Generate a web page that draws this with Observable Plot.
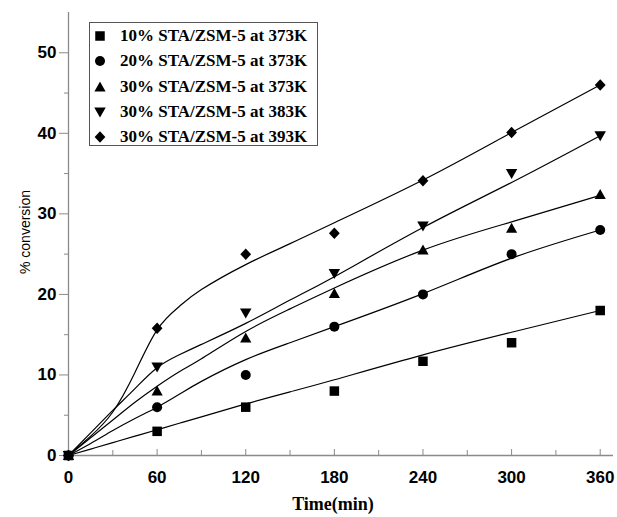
<!DOCTYPE html>
<html>
<head>
<meta charset="utf-8">
<script src="https://cdn.jsdelivr.net/npm/d3@7"></script>
<script src="https://cdn.jsdelivr.net/npm/@observablehq/plot@0.6"></script>
<style>
  body { margin: 0; background: white; }
  #wrap { position: relative; width: 617px; height: 517px; }
  #legend { position: absolute; left: 89px; top: 22px; width: 229px; height: 124px; border: 1px solid #555; background: white; box-sizing: border-box; padding-top: 1px; }
  .row { position: relative; height: 25.3px; font: bold 17px "Liberation Serif", serif; color: black; }
  .row svg { position: absolute; left: 3px; top: 5px; }
  .row span { position: absolute; left: 30px; top: 2px; white-space: nowrap; }
</style>
</head>
<body>
<div id="wrap"></div>
<script>
// ---- data ----
const seriesNames = [
  "10% STA/ZSM-5 at 373K",
  "20% STA/ZSM-5 at 373K",
  "30% STA/ZSM-5 at 373K",
  "30% STA/ZSM-5 at 383K",
  "30% STA/ZSM-5 at 393K"
];
const times = [0, 60, 120, 180, 240, 300, 360];
const conv10at373 = [0, 3.0, 6.0, 8.0, 11.7, 14.0, 18.0];
const conv20at373 = [0, 6.0, 10.0, 16.0, 20.0, 25.0, 28.0];
const conv30at373 = [0, 8.0, 14.6, 20.1, 25.5, 28.2, 32.4];
const conv30at383 = [0, 11.0, 17.7, 22.6, 28.5, 35.0, 39.7];
const conv30at393 = [0, 15.8, 25.0, 27.6, 34.1, 40.1, 46.0];

// fitted curves, values
const fitTimes   = [0, 15, 30, 45, 60, 75, 90, 120, 150, 180, 240, 300, 360];
const fit10at373 = [0, 0.8, 1.6, 2.4, 3.2, 4.0, 4.8, 6.4, 7.9, 9.4, 12.5, 15.3, 18.0];
const fit20at373 = [0, 1.5, 3.1, 4.6, 6.0, 7.6, 9.2, 11.9, 14.0, 16.0, 20.1, 24.5, 28.0];
const fit30at373 = [0, 2.2, 4.4, 6.6, 8.6, 10.4, 12.0, 15.4, 18.2, 20.8, 25.5, 29.0, 32.3];
const fit30at383 = [0, 2.8, 5.6, 8.3, 10.9, 12.5, 13.8, 16.4, 19.3, 22.2, 28.3, 33.9, 39.7];
const fit30at393 = [0, 2.4, 5.4, 10.3, 15.6, 18.5, 20.6, 23.7, 26.3, 28.9, 34.2, 40.1, 46.0];

const xMajor = [0, 60, 120, 180, 240, 300, 360];
const xMinor = [30, 90, 150, 210, 270, 330];
const yMajor = [0, 10, 20, 30, 40, 50];
const yMinor = [5, 15, 25, 35, 45];

// ---- symbols ----
const kOf = size => Math.sqrt(size / Math.PI);
const symSquare = {draw(c, s) { const k = kOf(s), h = 0.95 * k; c.rect(-h, -h, 2 * h, 2 * h); }};
const symCircle = {draw(c, s) { const k = kOf(s) * 1.0; c.moveTo(k, 0); c.arc(0, 0, k, 0, 2 * Math.PI); }};
const symTriUp = {draw(c, s) { const k = kOf(s); c.moveTo(0, -1.1 * k); c.lineTo(1.12 * k, 0.9 * k); c.lineTo(-1.12 * k, 0.9 * k); c.closePath(); }};
const symTriDown = {draw(c, s) { const k = kOf(s); c.moveTo(0, 1.1 * k); c.lineTo(1.15 * k, -0.9 * k); c.lineTo(-1.15 * k, -0.9 * k); c.closePath(); }};
const symDiamond = {draw(c, s) { const k = kOf(s); c.moveTo(0, -1.15 * k); c.lineTo(1.08 * k, 0); c.lineTo(0, 1.15 * k); c.lineTo(-1.08 * k, 0); c.closePath(); }};
const symbols = [symSquare, symCircle, symTriUp, symTriDown, symDiamond];

const pointSeries = [conv10at373, conv20at373, conv30at373, conv30at383, conv30at393];
const fitSeries = [fit10at373, fit20at373, fit30at373, fit30at383, fit30at393];

const fitRows = fitSeries.flatMap((vals, i) => vals.map((v, j) => ({series: seriesNames[i], t: fitTimes[j], v})));
const pointRows = pointSeries.map((vals, i) => vals.map((v, j) => ({series: seriesNames[i], t: times[j], v})));

const axisGray = "#8a8a8a";
const tickFont = "Liberation Sans, Arial, sans-serif";

const chart = Plot.plot({
  width: 617,
  height: 517,
  marginLeft: 68,
  marginRight: 4,
  marginTop: 12,
  marginBottom: 62,
  style: {background: "white", overflow: "visible"},
  x: {domain: [0, 369]},
  y: {domain: [0, 55]},
  marks: [
    Plot.ruleY([0], {stroke: axisGray, strokeWidth: 1.3}),
    Plot.ruleX([0], {stroke: axisGray, strokeWidth: 1.3}),
    Plot.ruleX(xMajor, {x: d => d, y1: 0, y2: 0, insetTop: -6, stroke: axisGray}),
    Plot.ruleX(xMinor, {x: d => d, y1: 0, y2: 0, insetTop: -5, stroke: axisGray}),
    Plot.axisX({ticks: xMajor, tickSize: 0, tickPadding: 15, label: null, fontSize: 17, fontWeight: "bold", fontFamily: tickFont, fill: "black"}),
    Plot.axisY({ticks: yMajor, tickSize: 9, tickPadding: 3, stroke: axisGray, label: null, fontSize: 17, fontWeight: "bold", fontFamily: tickFont, fill: "black"}),
    Plot.axisY({ticks: yMinor, tickSize: 4, stroke: axisGray, label: null, tickFormat: () => ""}),
    Plot.line(fitRows, {x: "t", y: "v", z: "series", curve: "natural", stroke: "black", strokeWidth: 1.2}),
    ...pointRows.map((rows, i) => Plot.dot(rows, {x: "t", y: "v", r: 5, symbol: symbols[i], fill: "black", stroke: "none"})),
    Plot.text(["% conversion"], {text: d => d, frameAnchor: "left", textAnchor: "middle", dx: -43, dy: -2, rotate: -90, fontSize: 14, fontFamily: tickFont, fill: "black"}),
    Plot.text(["Time(min)"], {text: d => d, frameAnchor: "bottom", dx: -8, dy: 54, fontSize: 18, fontWeight: "bold", fontFamily: "Liberation Serif, serif", fill: "black"})
  ]
});

const wrap = document.getElementById("wrap");
wrap.appendChild(chart);

// legend
const legend = document.createElement("div");
legend.id = "legend";
seriesNames.forEach((name, i) => {
  const row = document.createElement("div");
  row.className = "row";
  const p = d3.path();
  symbols[i].draw(p, 25 * Math.PI);
  row.innerHTML = `<svg width="14" height="14" viewBox="-7 -7 14 14"><path d="${p.toString()}" fill="black"/></svg><span>${name}</span>`;
  legend.appendChild(row);
});
wrap.appendChild(legend);
</script>
</body>
</html>
